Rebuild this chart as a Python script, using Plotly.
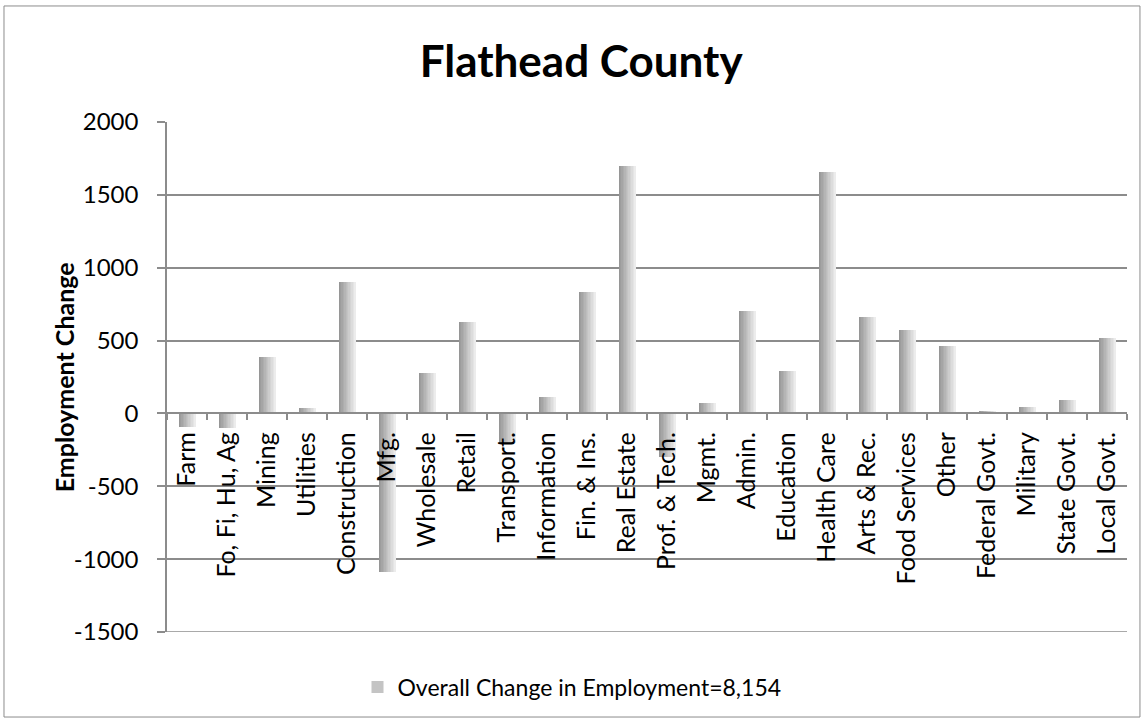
import plotly.graph_objects as go

# employment change by sector, Flathead County
sectors = ["Farm", "Fo, Fi, Hu, Ag", "Mining", "Utilities", "Construction", "Mfg.",
           "Wholesale", "Retail", "Transport.", "Information", "Fin. & Ins.", "Real Estate",
           "Prof. & Tech.", "Mgmt.", "Admin.", "Education", "Health Care", "Arts & Rec.",
           "Food Services", "Other", "Federal Govt.", "Military", "State Govt.", "Local Govt."]
change = [-90, -100, 385, 40, 900, -1090, 280, 625, -200, 110, 830, 1695,
          -300, 70, 700, 290, 1660, 665, 575, 465, 15, 45, 95, 515]
series_name = "Overall Change in Employment=8,154"
y_ticks = [-1500, -1000, -500, 0, 500, 1000, 1500, 2000]
y_min, y_max = y_ticks[0], y_ticks[-1]

FONT = "Lato"
GRID = "#8c8c8c"

# fake a left-to-right gray gradient by stacking narrowing strips
bar_w = 0.42
n_strips = 12
dark, light = 150, 236

fig = go.Figure()
for i in range(n_strips):
    t = i / (n_strips - 1)
    g = int(dark + (light - dark) * t)
    left = -bar_w / 2 + i * bar_w / n_strips
    fig.add_trace(go.Bar(
        x=sectors, y=change,
        width=bar_w / 2 - left,
        offset=left,
        marker=dict(color=f"rgb({g},{g},{g})", line=dict(width=0)),
        name=series_name,
        showlegend=(i == n_strips // 2),
        hoverinfo="x+y",
    ))

# bottom gridline (plotly skips it at the range edge)
fig.add_shape(type="line", xref="paper", yref="y", x0=0, x1=1, y0=y_min, y1=y_min,
              line=dict(color=GRID, width=1.5), layer="below")

# outer chart border
fig.add_shape(type="rect", xref="paper", yref="paper",
              x0=-0.1698, x1=1.0135, y0=-0.1667, y1=1.2275,
              line=dict(color="#8c8c8c", width=1), layer="below")

# y axis title placed by hand, closer to the tick labels than standoff allows
fig.add_annotation(text="<b>Employment Change</b>", textangle=-90,
                   xref="paper", yref="paper", x=-0.107, y=0.5,
                   xanchor="center", yanchor="middle", showarrow=False,
                   font=dict(family=FONT, size=25, color="black"))

fig.update_layout(
    width=1144, height=721,
    barmode="overlay",
    bargap=0,
    margin=dict(l=167, r=17, t=122, b=89, autoexpand=False),
    paper_bgcolor="white", plot_bgcolor="white",
    font=dict(family=FONT, size=24, color="black"),
    title=dict(text="<b>Flathead County</b>", font=dict(family=FONT, size=44, color="black"),
               x=0.508, xanchor="center", y=0.915, yanchor="middle"),
    xaxis=dict(
        type="category",
        anchor="free", position=-y_min / (y_max - y_min),
        showline=True, linecolor=GRID, linewidth=1.5,
        ticks="outside", ticklen=6, tickcolor=GRID, tickwidth=1.5,
        tickson="boundaries",
        tickangle=-90, ticklabelstandoff=8,
        showgrid=False, automargin=False,
        tickfont=dict(family=FONT, size=25, color="black"),
    ),
    yaxis=dict(
        range=[y_min, y_max],
        tickmode="array", tickvals=y_ticks, ticktext=[str(v) for v in y_ticks],
        showline=True, linecolor=GRID, linewidth=1.5,
        ticks="outside", ticklen=8, tickcolor=GRID, tickwidth=1.5,
        ticklabelstandoff=14, automargin=False,
        showgrid=True, gridcolor=GRID, gridwidth=1.5,
        zeroline=False,
        tickfont=dict(family=FONT, size=24, color="black"),
    ),
    legend=dict(
        orientation="h",
        xref="container", yref="container",
        x=0.5, xanchor="center",
        y=34 / 721, yanchor="middle",
        font=dict(family=FONT, size=23, color="black"),
        bgcolor="rgba(0,0,0,0)",
    ),
)

# drop the default page margin so the figure sits at the window corner
fig.write_html("out.html", config={"displayModeBar": False},
               post_script="document.body.style.margin='0';")
